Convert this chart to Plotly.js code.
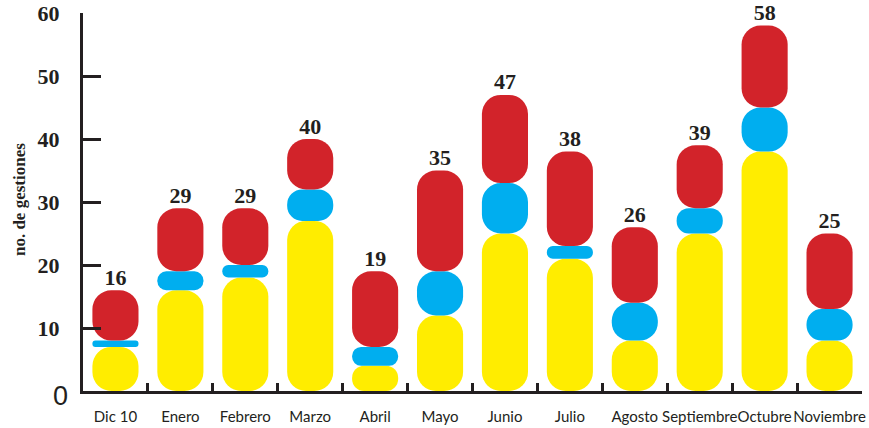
<!DOCTYPE html>
<html>
<head>
<meta charset="utf-8">
<script src="https://cdn.plot.ly/plotly-3.0.1.min.js"></script>
<style>
  html, body { margin: 0; padding: 0; background: #fff; }
  #chart { width: 869px; height: 428px; }
</style>
</head>
<body>
<div id="chart"></div>
<script>
  // Datos
  const meses = ['Dic 10', 'Enero', 'Febrero', 'Marzo', 'Abril', 'Mayo', 'Junio',
                 'Julio', 'Agosto', 'Septiembre', 'Octubre', 'Noviembre'];
  const amarillo = [7, 16, 18, 27, 4, 12, 25, 21, 8, 25, 38, 8];
  const azul = [1, 3, 2, 5, 3, 7, 8, 2, 6, 4, 7, 5];
  const rojo = [8, 10, 9, 8, 12, 16, 14, 15, 12, 10, 13, 12];
  const totales = [16, 29, 29, 40, 19, 35, 47, 38, 26, 39, 58, 25];
  const yTicks = [10, 20, 30, 40, 50, 60];

  const ink = '#231f20';
  const colores = ['#ffed00', '#00aeef', '#d2232a'];
  const series = [amarillo, azul, rojo];

  const margin = { l: 83, r: 7, t: 13, b: 37 };
  const pxPorUnidad = (428 - margin.t - margin.b) / 60;
  const radioMax = 19;

  // one bar per segment, with an explicit base so plotly rounds both ends;
  // the radius is clamped to half the segment height
  const data = [];
  const acumulado = meses.map(() => 0);
  series.forEach((valores, s) => {
    valores.forEach((v, i) => {
      data.push({
        type: 'bar',
        x: [meses[i]],
        y: [v],
        base: [acumulado[i]],
        width: 0.71,
        marker: {
          color: colores[s],
          cornerradius: Math.min(radioMax, v * pxPorUnidad / 2),
          line: { width: 0 }
        },
        showlegend: false,
        hoverinfo: 'skip'
      });
      acumulado[i] += v;
    });
  });

  data.push({
    type: 'scatter',
    mode: 'text',
    x: meses,
    y: totales,
    text: totales.map(String),
    textposition: 'top center',
    textfont: { family: 'Liberation Serif', size: 22, color: ink, weight: 'bold' },
    cliponaxis: false,
    showlegend: false,
    hoverinfo: 'skip'
  });

  const layout = {
    width: 869,
    height: 428,
    margin: margin,
    barmode: 'overlay',
    paper_bgcolor: '#fff',
    plot_bgcolor: '#fff',
    showlegend: false,
    xaxis: {
      type: 'category',
      range: [-0.5, 11.5],
      showline: true,
      linecolor: ink,
      linewidth: 3,
      ticks: 'inside',
      tickson: 'boundaries',
      ticklen: 8,
      tickwidth: 3,
      tickcolor: ink,
      tickangle: 0,
      showgrid: false,
      zeroline: false,
      ticklabelstandoff: 10,
      tickfont: { family: 'Lato', size: 15, color: ink }
    },
    yaxis: {
      range: [0, 60],
      showline: true,
      linecolor: ink,
      linewidth: 3,
      ticks: 'inside',
      ticklen: 18,
      tickwidth: 3,
      tickcolor: ink,
      tickvals: yTicks,
      ticktext: yTicks.map(String),
      showgrid: false,
      zeroline: false,
      ticklabelstandoff: 16,
      tickfont: { family: 'Liberation Serif', size: 22, color: ink, weight: 'bold' }
    },
    annotations: [
      {
        text: '0', xref: 'paper', yref: 'y', x: 0, y: 0,
        xanchor: 'right', yanchor: 'middle', xshift: -13, yshift: -5,
        showarrow: false,
        font: { family: 'Liberation Sans', size: 27, color: ink }
      },
      {
        text: 'no. de gestiones', xref: 'paper', yref: 'y', x: 0, y: 33.8,
        xanchor: 'center', yanchor: 'middle', xshift: -64, yshift: -22, textangle: -90,
        showarrow: false,
        font: { family: 'Liberation Serif', size: 17, color: ink, weight: 'bold' }
      }
    ]
  };

  Plotly.newPlot('chart', data, layout, { displayModeBar: false, staticPlot: true });
</script>
</body>
</html>
